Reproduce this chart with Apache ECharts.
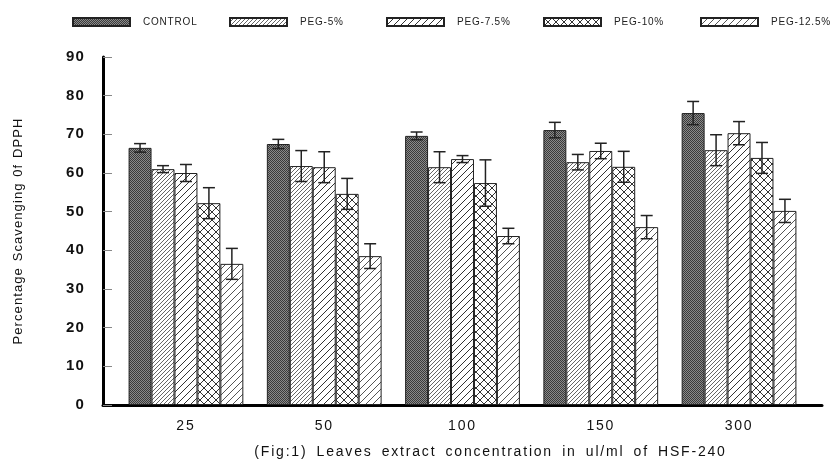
<!DOCTYPE html>
<html>
<head>
<meta charset="utf-8">
<script src="https://cdn.jsdelivr.net/npm/echarts@6/dist/echarts.min.js"></script>
<style>html,body{margin:0;padding:0;background:#fff;}#c{width:835px;height:460px;}</style>
</head>
<body>
<div id="c"></div>
<script>
// ---- data ----
const categories = ['25', '50', '100', '150', '300'];
const seriesNames = ['CONTROL', 'PEG-5%', 'PEG-7.5%', 'PEG-10%', 'PEG-12.5%'];
const control = [66.5, 67.5, 69.6, 71.1, 75.5];
const peg5 = [61.0, 61.8, 61.5, 62.8, 65.9];
const peg75 = [60.0, 61.5, 63.6, 65.7, 70.3];
const peg10 = [52.2, 54.6, 57.4, 61.6, 63.9];
const peg125 = [36.5, 38.5, 43.7, 46.0, 50.2];
const errControl = [1.1, 1.2, 1.0, 2.0, 3.0];
const errPeg5 = [0.9, 4.0, 4.0, 2.0, 4.0];
const errPeg75 = [2.2, 4.0, 0.9, 2.0, 3.0];
const errPeg10 = [4.0, 4.0, 6.0, 4.0, 4.0];
const errPeg125 = [4.0, 3.2, 2.0, 3.0, 3.0];
const yTicks = [0, 10, 20, 30, 40, 50, 60, 70, 80, 90];

const values = [control, peg5, peg75, peg10, peg125];
const errors = [errControl, errPeg5, errPeg75, errPeg10, errPeg125];

// ---- letter spacing for specific text styles (canvas) ----
(function () {
  const P = CanvasRenderingContext2D.prototype;
  const orig = P.fillText;
  const rules = [
    ['14.01px', '1.8px', '3.5px'],
    ['14.02px', '1.8px', '0px'],
    ['13.01px', '1.1px', '1px'],
    ['10.01px', '0.8px', '0px']
  ];
  P.fillText = function (t, x, y, m) {
    const f = this.font || '';
    let hit = null;
    for (const r of rules) if (f.indexOf(r[0]) >= 0) { hit = r; break; }
    if (hit && 'letterSpacing' in this) {
      const ls = this.letterSpacing, ws = this.wordSpacing;
      this.letterSpacing = hit[1];
      this.wordSpacing = hit[2];
      const res = m === undefined ? orig.call(this, t, x, y) : orig.call(this, t, x, y, m);
      this.letterSpacing = ls; this.wordSpacing = ws;
      return res;
    }
    return m === undefined ? orig.call(this, t, x, y) : orig.call(this, t, x, y, m);
  };
})();

// ---- patterns ----
function tile(w, h, draw) {
  const c = document.createElement('canvas');
  c.width = w; c.height = h;
  const g = c.getContext('2d');
  draw(g, w, h);
  return { image: c, repeat: 'repeat' };
}
function diag(g, s, color, lw, dir) {
  g.strokeStyle = color; g.lineWidth = lw;
  for (let k = -1; k <= 1; k++) {
    g.beginPath();
    if (dir > 0) { g.moveTo(k * s, s); g.lineTo(k * s + s, 0); }
    else { g.moveTo(k * s, 0); g.lineTo(k * s + s, s); }
    g.stroke();
  }
}
const patControl = tile(2, 2, (g) => {
  g.fillStyle = '#8a8a8a'; g.fillRect(0, 0, 2, 2);
  g.fillStyle = '#3a3a3a'; g.fillRect(0, 0, 1, 1); g.fillRect(1, 1, 1, 1);
});
const pat5 = tile(4, 4, (g, w, h) => { g.fillStyle = '#fff'; g.fillRect(0, 0, w, h); diag(g, 4, '#666', 1, 1); });
const pat75 = tile(7, 7, (g, w, h) => { g.fillStyle = '#fff'; g.fillRect(0, 0, w, h); diag(g, 7, '#333', 1, 1); });
const pat10 = tile(8, 8, (g, w, h) => { g.fillStyle = '#fff'; g.fillRect(0, 0, w, h); diag(g, 8, '#333', 1, 1); diag(g, 8, '#333', 1, -1); });
const pat125 = tile(7, 7, (g, w, h) => { g.fillStyle = '#fff'; g.fillRect(0, 0, w, h); diag(g, 7, '#555', 1, 1); });
const patterns = [patControl, pat5, pat75, pat10, pat125];

const GAP = 0.17;
const N = seriesNames.length;

const barSeries = seriesNames.map((name, s) => ({
  name: name,
  type: 'bar',
  barGap: '0%',
  barCategoryGap: (GAP * 100) + '%',
  itemStyle: { color: patterns[s], borderColor: '#222', borderWidth: 1 },
  data: values[s].map((v, i) => [i, v]),
  z: 2
}));

const errData = [];
values.forEach((arr, s) => arr.forEach((v, i) => errData.push([i, s, v - errors[s][i], v + errors[s][i]])));

const errSeries = {
  type: 'custom',
  z: 5,
  silent: true,
  renderItem: function (params, api) {
    const i = api.value(0), s = api.value(1);
    const lo = api.coord([i, api.value(2)]);
    const hi = api.coord([i, api.value(3)]);
    const band = api.size([1, 0])[0];
    const bw = band * (1 - GAP) / N;
    const x = lo[0] + (s - (N - 1) / 2) * bw;
    const cap = 6;
    const st = { stroke: '#222', lineWidth: 1.5 };
    return {
      type: 'group',
      children: [
        { type: 'line', shape: { x1: x, y1: lo[1], x2: x, y2: hi[1] }, style: st },
        { type: 'line', shape: { x1: x - cap, y1: lo[1], x2: x + cap, y2: lo[1] }, style: st },
        { type: 'line', shape: { x1: x - cap, y1: hi[1], x2: x + cap, y2: hi[1] }, style: st }
      ]
    };
  },
  encode: { x: 0, y: 3 },
  data: errData
};

const legends = seriesNames.map((name, k) => ({
  data: [name],
  left: 67 + 157 * k,
  top: 12,
  itemWidth: 57,
  itemHeight: 8,
  icon: 'rect',
  selectedMode: false,
  textStyle: { fontSize: 10.01, color: '#222', padding: [0, 0, 0, 8] }
}));

const chart = echarts.init(document.getElementById('c'), null, { renderer: 'canvas' });
chart.setOption({
  animation: false,
  backgroundColor: '#fff',
  textStyle: { fontFamily: 'Liberation Sans, Arial, sans-serif' },
  legend: legends,
  grid: { left: 103, right: 13, top: 57, bottom: 55, containLabel: false, outerBoundsMode: 'none' },
  xAxis: {
    type: 'value',
    min: -0.6,
    max: 4.6,
    axisLine: { show: true, onZero: false, lineStyle: { color: '#000', width: 3 } },
    axisTick: { show: false },
    splitLine: { show: false },
    axisLabel: {
      customValues: [0, 1, 2, 3, 4],
      formatter: (v) => categories[Math.round(v)],
      fontSize: 14.02, color: '#111', margin: 14
    },
    name: '(Fig:1) Leaves extract concentration in ul/ml of HSF-240',
    nameLocation: 'middle',
    nameGap: 40,
    nameTextStyle: { fontSize: 14.01, color: '#111', padding: [0, 0, 0, 56] }
  },
  yAxis: {
    type: 'value',
    min: 0,
    max: 90,
    interval: 10,
    axisLine: { show: true, onZero: false, lineStyle: { color: '#000', width: 3 } },
    axisTick: { show: true, inside: true, length: 9, lineStyle: { color: '#888', width: 1 } },
    splitLine: { show: false },
    axisLabel: {
      fontSize: 15, fontWeight: 'bold', color: '#111', margin: 18,
      formatter: (v) => yTicks.includes(v) ? String(v) : ''
    },
    name: 'Percentage Scavenging 0f DPPH',
    nameLocation: 'middle',
    nameGap: 78,
    nameTextStyle: { fontSize: 13.01, color: '#111' }
  },
  series: barSeries.concat([errSeries])
});
</script>
</body>
</html>
